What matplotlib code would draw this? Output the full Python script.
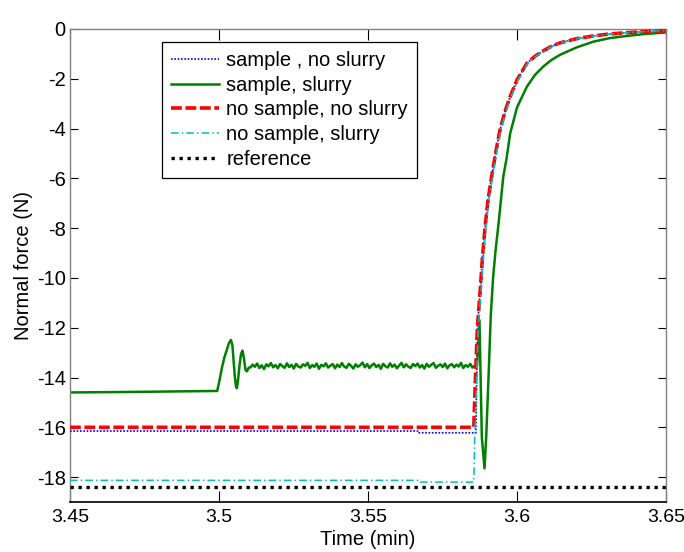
import matplotlib
matplotlib.use("Agg")
import matplotlib.pyplot as plt
import numpy as np

plt.rcParams["font.family"] = ["Liberation Sans", "DejaVu Sans"]
plt.rcParams["axes.unicode_minus"] = False

# shared shape of the fast recovery after the release (time, force)
t_rise = [3.5860, 3.5867, 3.5876, 3.5884, 3.5893, 3.5903, 3.5915, 3.5928, 3.5943,
          3.5960, 3.5977, 3.6000, 3.6033, 3.6060, 3.6088, 3.6115, 3.6144, 3.6200,
          3.6256, 3.6310, 3.6368, 3.6430, 3.6500]
f_rise = [-14.2, -12.0, -10.6, -9.2, -7.94, -6.85, -5.93, -5.0, -4.06,
          -3.3, -2.72, -2.05, -1.38, -1.1, -0.88, -0.7, -0.56, -0.39,
          -0.28, -0.2, -0.15, -0.1, -0.07]

# sample, no slurry (blue dotted)
t_blue = [3.45, 3.567, 3.5671, 3.5862] + t_rise[1:]
f_blue = [-16.15, -16.15, -16.22, -16.22] + f_rise[1:]

# no sample, no slurry (red dashed)
t_red = [3.45, 3.5855] + t_rise
f_red = [-16.0, -16.0] + f_rise

# no sample, slurry (cyan dash-dot)
t_cyan = [3.45, 3.567, 3.5671, 3.5855, 3.5858] + [t + 0.0003 for t in t_rise[1:-1]] + [3.65]
f_cyan = [-18.13, -18.13, -18.2, -18.2, -16.5] + f_rise[1:-1] + [-0.06]

# sample, slurry (green) - start, oscillation, noisy plateau, spike, recovery
t_green_a = [3.45, 3.47, 3.49, 3.4994, 3.5002, 3.5010, 3.5018, 3.5026, 3.5034,
             3.5040, 3.5045, 3.5049, 3.5053, 3.5057, 3.5060, 3.5064, 3.5069,
             3.5074, 3.5079, 3.5084, 3.5089, 3.5094, 3.5100]
f_green_a = [-14.6, -14.58, -14.55, -14.54, -14.1, -13.6, -13.2, -12.9, -12.6,
             -12.49, -12.7, -13.3, -13.95, -14.35, -14.43, -14.1, -13.5,
             -13.05, -12.92, -13.25, -13.7, -13.75, -13.6]
f_green_noise = [
    -13.60, -13.48, -13.57, -13.44, -13.62, -13.51, -13.66, -13.47, -13.55, -13.42,
    -13.59, -13.50, -13.63, -13.46, -13.54, -13.61, -13.43, -13.58, -13.49, -13.64,
    -13.45, -13.56, -13.60, -13.47, -13.53, -13.41, -13.62, -13.50, -13.57, -13.44,
    -13.65, -13.49, -13.55, -13.43, -13.60, -13.52, -13.46, -13.63, -13.48, -13.58,
    -13.42, -13.56, -13.61, -13.45, -13.53, -13.64, -13.47, -13.57, -13.50, -13.40,
    -13.59, -13.46, -13.62, -13.51, -13.44, -13.58, -13.49, -13.65, -13.45, -13.55,
    -13.60, -13.43, -13.57, -13.48, -13.63, -13.52, -13.41, -13.59, -13.47, -13.56,
    -13.62, -13.46, -13.54, -13.44, -13.60, -13.50, -13.64, -13.45, -13.57, -13.49,
    -13.42, -13.61, -13.53, -13.47, -13.58, -13.44, -13.63, -13.51, -13.46, -13.59,
    -13.48, -13.56, -13.41, -13.62, -13.50, -13.57, -13.45, -13.60, -13.52, -13.53]
t_green_b = [3.5874, 3.5882, 3.5891, 3.5897, 3.5906, 3.5912, 3.5920, 3.5928,
             3.5937, 3.5945, 3.5954, 3.5965, 3.5977, 3.6000, 3.6033, 3.6060,
             3.6088, 3.6115, 3.6144, 3.6200, 3.6256, 3.6310, 3.6368, 3.6430, 3.65]
f_green_b = [-11.7, -16.4, -17.65, -16.3, -13.5, -11.5, -9.95, -8.9,
             -7.94, -7.0, -5.93, -5.2, -4.2, -3.15, -2.32, -1.85,
             -1.51, -1.25, -1.04, -0.74, -0.51, -0.37, -0.28, -0.2, -0.14]

# reference (black dotted)
t_ref = [3.45, 3.65]
f_ref = [-18.4, -18.4]

x_ticks = [3.45, 3.5, 3.55, 3.6, 3.65]
x_labels = ["3.45", "3.5", "3.55", "3.6", "3.65"]
y_ticks = [0, -2, -4, -6, -8, -10, -12, -14, -16, -18]

t_green_noise = np.linspace(3.5105, 3.5866, len(f_green_noise))
t_green = np.concatenate([t_green_a, t_green_noise, t_green_b])
f_green = np.concatenate([f_green_a, f_green_noise, f_green_b])

fs = 14.5
fig = plt.figure(figsize=(6.84, 5.52), dpi=100)
ax = fig.add_axes([0.1023, 0.0906, 0.8714, 0.8569])

ax.plot(t_blue, f_blue, color="#0000ff", lw=1.2, ls=(0, (1, 1)),
        label="sample , no slurry", zorder=3)
ax.plot(t_green, f_green, color="#008000", lw=1.8, label="sample, slurry", zorder=2)
ax.plot(t_red, f_red, color="#ff0000", lw=2.6, ls=(0, (3, 1)),
        label="no sample, no slurry", zorder=4)
ax.plot(t_cyan, f_cyan, color="#00bfbf", lw=1.1, ls=(0, (5, 2, 1, 2)),
        label="no sample, slurry", zorder=5)
ax.plot(t_ref, f_ref, color="#000000", lw=2.4, ls=(0, (1, 1.4)),
        label="reference", zorder=3)

ax.set_xlim(3.45, 3.65)
ax.set_ylim(-19, 0)
ax.set_xticks(x_ticks)
ax.set_xticklabels(x_labels)
ax.set_yticks(y_ticks)
ax.tick_params(direction="in", length=6, width=0.8, labelsize=fs,
               top=True, right=True)
ax.tick_params(axis="x", length=8, pad=5, labelsize=14)
ax.tick_params(axis="y", pad=3)

for side in ["left", "right", "top"]:
    ax.spines[side].set_color("#808080")
    ax.spines[side].set_linewidth(1.0)
ax.spines["bottom"].set_color("#000000")
ax.spines["bottom"].set_linewidth(1.2)

ax.set_xlabel("Time (min)", fontsize=fs, labelpad=3)
ax.set_ylabel("Normal force (N)", fontsize=fs, labelpad=3)

leg = ax.legend(loc="upper left", bbox_to_anchor=(0.154, 0.9725),
                borderaxespad=0, fontsize=fs, handlelength=2.4,
                handletextpad=0.35, labelspacing=0.28, borderpad=0.45,
                fancybox=False, framealpha=1, edgecolor="#000000")
leg.get_frame().set_linewidth(0.9)

fig.savefig("out.png", dpi=100, facecolor="white")
